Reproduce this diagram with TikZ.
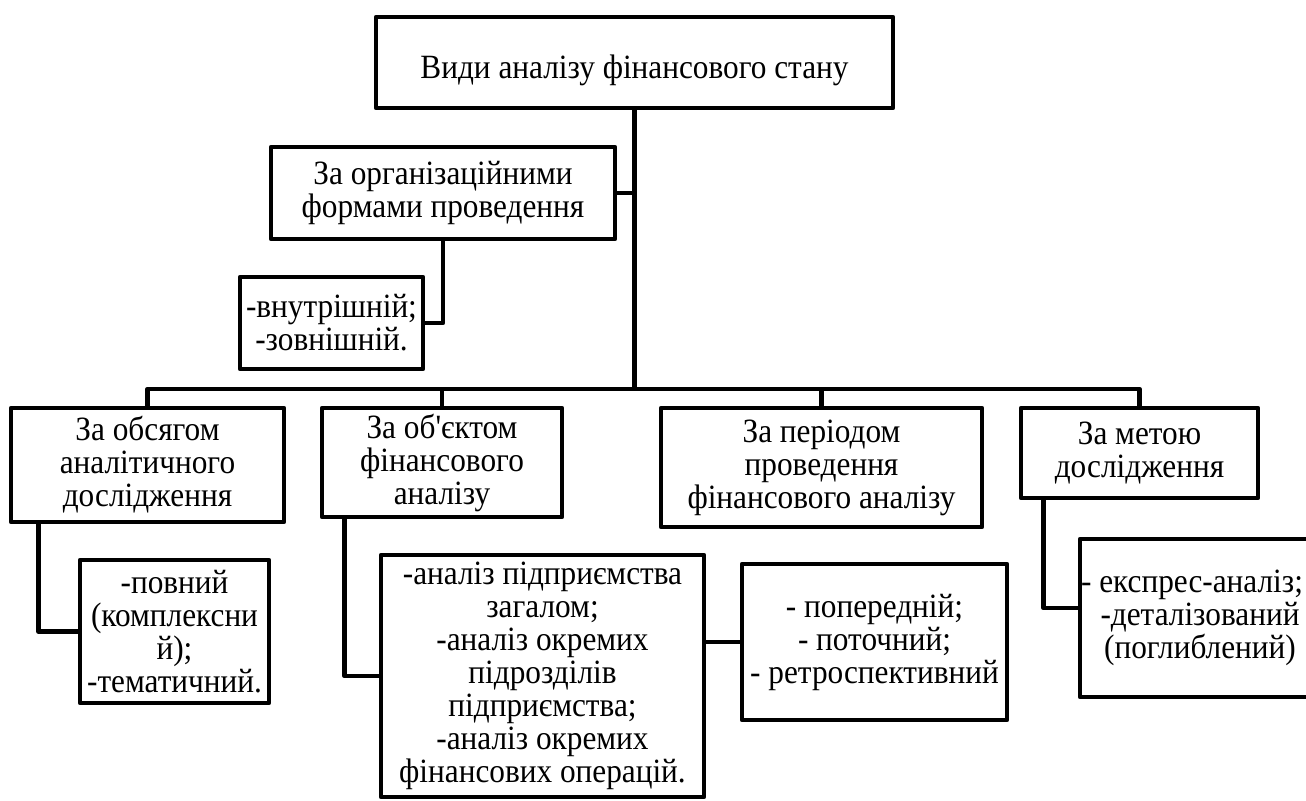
\documentclass[tikz,border=0pt]{standalone}
\usepackage{fontspec}
\setmainfont{Liberation Serif}[FakeStretch=0.92,Ligatures=TeXOff]
\usetikzlibrary{calc}

\begin{document}
\begin{tikzpicture}[x=0.75pt,y=-0.75pt,
    box/.style={draw,line width=3.6pt,line join=round,align=center,inner sep=0pt,
      font=\fontsize{25.5}{24.75}\selectfont},
    link/.style={line width=3.6pt,line join=round}]
  \useasboundingbox (0,0) rectangle (1306,800);
  % top level
  \node[box,minimum width=387.75pt,minimum height=68.25pt,text height=28pt,text depth=3.6pt]
        (top) at (634.5,62.5) {Види аналізу фінансового стану};
  \node[box,minimum width=258pt,minimum height=69pt] (org) at (443,193)
        {За організаційними\\формами проведення};
  \node[box,minimum width=137.25pt,minimum height=69pt] (intext) at (331.5,323)
        {-внутрішній;\\-зовнішній.};
  % second row
  \node[box,minimum width=204.75pt,minimum height=85.5pt] (vol) at (147.5,465)
        {За обсягом\\аналітичного\\дослідження};
  \node[box,minimum width=180pt,minimum height=81.75pt] (obj) at (442,462.5)
        {За об'єктом\\фінансового\\аналізу};
  \node[box,minimum width=240.75pt,minimum height=89.25pt] (per) at (821.5,467.5)
        {За періодом\\проведення\\фінансового аналізу};
  \node[box,minimum width=177.75pt,minimum height=67.5pt] (aim) at (1139.5,453)
        {За метою\\дослідження};
  % third row
  \node[box,minimum width=141.75pt,minimum height=107.25pt] (volsub) at (174.5,631.5)
        {-повний\\(комплексни\\й);\\-тематичний.};
  \node[box,minimum width=242.25pt,minimum height=181.5pt] (objsub) at (542.5,676)
        {-аналіз підприємства\\загалом;\\-аналіз окремих\\підрозділів\\підприємства;\\-аналіз окремих\\фінансових операцій.};
  \node[box,minimum width=198.75pt,minimum height=117pt] (persub) at (874.5,642)
        {- попередній;\\- поточний;\\- ретроспективний};
  \node[box,minimum width=180pt,minimum height=118.5pt] (aimsub) at (1200,618)
        {- експрес-аналіз;\hspace*{12pt}\\-деталізований\\(поглиблений)};
  % connectors
  \coordinate (hub) at (634.5,389);
  \draw[link] (top) -- (hub);
  \draw[link] (org.east) -- (org.east -| hub);
  \draw[link] (org.south) |- (intext.east);
  \draw[link] (vol.north) -- (vol.north |- hub) -- (aim.north |- hub) -- (aim.north);
  \draw[link] (obj.north) -- (obj.north |- hub);
  \draw[link] (per.north) -- (per.north |- hub);
  \draw[link] ($(vol.south west)+(30,0)$) |- (volsub.west);
  \draw[link] ($(obj.south west)+(25,0)$) |- (objsub.west);
  \draw[link] ($(per.south west)+(32,0)$) -- ($(per.south west)+(32,0)$ |- objsub.north);
  \draw[link] (persub.west) -- (persub.west -| objsub.east);
  \draw[link] ($(aim.south west)+(25,0)$) |- ($(aimsub.west)+(0,-10)$);
\end{tikzpicture}
\end{document}
